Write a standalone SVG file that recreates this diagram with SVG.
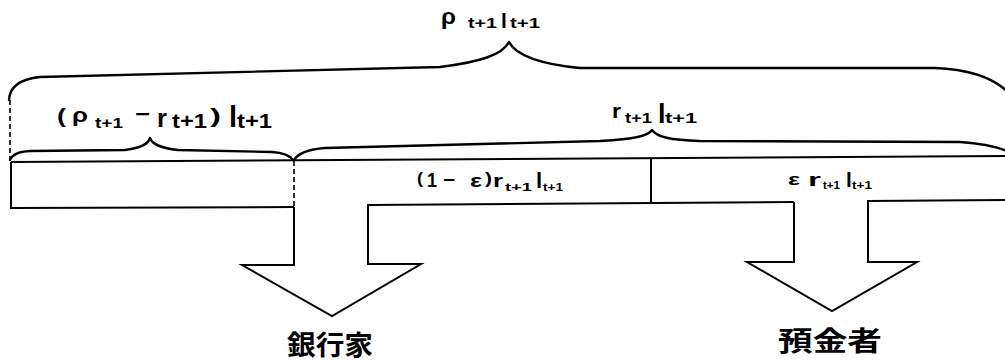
<svg xmlns="http://www.w3.org/2000/svg" width="1005" height="361" viewBox="0 0 1005 361">
<style>
.ln{fill:none;stroke:#000;stroke-width:2;stroke-linejoin:miter}
.br{fill:none;stroke:#000;stroke-width:2.4;stroke-linecap:round;stroke-linejoin:round}
.ds{fill:none;stroke:#000;stroke-width:1.6;stroke-dasharray:5,3}
text{font-family:"Liberation Sans","DejaVu Sans",sans-serif;font-weight:bold;fill:#000}
.cjk{font-family:"Noto Sans CJK JP","Noto Sans CJK SC",sans-serif;font-weight:bold}
</style>
<rect width="1005" height="361" fill="#fff"/>
<g id="connectors">
<path class="br" d="M9,100 Q10,80 40,77 L 440,67 C 480,62 502,55 509,42 C 516,55 540,64 580,68 L 935,68 Q 985,70 1008,92"/>
<path class="ds" d="M10,100 L10,160"/>
<path class="br" d="M10,160 Q13,152 30,151 L 125,150 C 142,148 148,144 150,138 C 152,144 160,148 178,150 L 272,152 Q 288,153 293,160"/>
<path class="br" d="M294,160 Q300,150 325,148 L 600,141 C 635,139 648,136 652,130 C 657,137 670,140 700,141 L 960,142 Q 990,144 1007,151"/>
<path class="ds" d="M294,161 L294,207"/>
</g>
<g id="box">
<path class="ln" d="M11,162 L1005,156"/>
<path class="ln" d="M11,162 L11,208 L294,207"/>
<path class="ln" d="M651,158 L651,202"/>
</g>
<g id="arrow-banker">
<path class="ln" d="M294,207 L294,265 L242,265 L332,316 L421,264 L368,264 L368,205 L794,202"/>
</g>
<g id="arrow-depositor">
<path class="ln" d="M794,202 L794,262 L747,262 L832,311 L917,262 L868,262 L868,201 L1005,200"/>
</g>
<g id="label-top">
<text x="441" y="24" font-size="22" textLength="15" lengthAdjust="spacingAndGlyphs">ρ</text>
<text x="468" y="28" font-size="15" textLength="29" lengthAdjust="spacingAndGlyphs">t+1</text>
<text x="501" y="28" font-size="21">l</text>
<text x="510" y="28" font-size="15" textLength="30" lengthAdjust="spacingAndGlyphs">t+1</text>
</g>
<g id="label-left">
<text x="57" y="123" font-size="21" textLength="9" lengthAdjust="spacingAndGlyphs">(</text>
<text x="72" y="122" font-size="21" textLength="16" lengthAdjust="spacingAndGlyphs">ρ</text>
<text x="95" y="128" font-size="15" textLength="28" lengthAdjust="spacingAndGlyphs">t+1</text>
<text x="135" y="121" font-size="20" textLength="15" lengthAdjust="spacingAndGlyphs">−</text>
<text x="157" y="127" font-size="25" textLength="10" lengthAdjust="spacingAndGlyphs">r</text>
<text x="172" y="128" font-size="20" textLength="35" lengthAdjust="spacingAndGlyphs">t+1</text>
<text x="210" y="123" font-size="21" textLength="11" lengthAdjust="spacingAndGlyphs">)</text>
<text x="229" y="127" font-size="29">l</text>
<text x="237" y="128" font-size="20" textLength="35" lengthAdjust="spacingAndGlyphs">t+1</text>
</g>
<g id="label-r">
<text x="612" y="118" font-size="21" textLength="9" lengthAdjust="spacingAndGlyphs">r</text>
<text x="625" y="123" font-size="15" textLength="27" lengthAdjust="spacingAndGlyphs">t+1</text>
<text x="658" y="123" font-size="27">l</text>
<text x="665" y="123" font-size="15" textLength="32" lengthAdjust="spacingAndGlyphs">t+1</text>
</g>
<g id="label-banker-share">
<text x="417" y="184" font-size="17" textLength="6" lengthAdjust="spacingAndGlyphs">(</text>
<text x="427" y="187" font-size="20" textLength="10" lengthAdjust="spacingAndGlyphs">1</text>
<text x="443" y="186" font-size="18" textLength="12" lengthAdjust="spacingAndGlyphs">−</text>
<text x="470" y="187" font-size="19" textLength="12" lengthAdjust="spacingAndGlyphs">ε</text>
<text x="485" y="184" font-size="17" textLength="7" lengthAdjust="spacingAndGlyphs">)</text>
<text x="493" y="187" font-size="19" textLength="10" lengthAdjust="spacingAndGlyphs">r</text>
<text x="505" y="191" font-size="11" textLength="27" lengthAdjust="spacingAndGlyphs">t+1</text>
<text x="536" y="188" font-size="22">l</text>
<text x="543" y="191" font-size="11" textLength="20" lengthAdjust="spacingAndGlyphs">t+1</text>
</g>
<g id="label-depositor-share">
<text x="788" y="185" font-size="17" textLength="12" lengthAdjust="spacingAndGlyphs">ε</text>
<text x="808" y="186" font-size="19" textLength="13" lengthAdjust="spacingAndGlyphs">r</text>
<text x="823" y="189" font-size="11" textLength="17" lengthAdjust="spacingAndGlyphs">t+1</text>
<text x="846" y="187" font-size="21">l</text>
<text x="852" y="189" font-size="11" textLength="20" lengthAdjust="spacingAndGlyphs">t+1</text>
</g>
<g id="node-banker">
<text class="cjk" x="287" y="355" font-size="27" textLength="86" lengthAdjust="spacingAndGlyphs">銀行家</text>
</g>
<g id="node-depositor">
<text class="cjk" x="778" y="351" font-size="27" textLength="104" lengthAdjust="spacingAndGlyphs">預金者</text>
</g>
</svg>
